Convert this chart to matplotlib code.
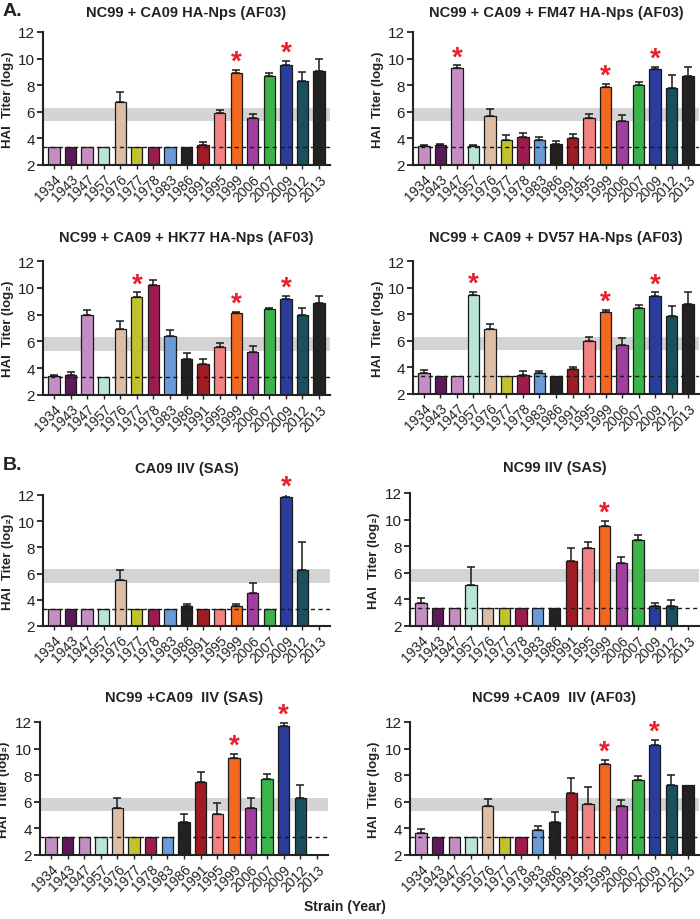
import numpy as np
import matplotlib
matplotlib.use("Agg")
import matplotlib.pyplot as plt

plt.rcParams['font.family'] = ['Liberation Sans', 'DejaVu Sans']

strains = ["1934", "1943", "1947", "1957", "1976", "1977", "1978", "1983", "1986",
           "1991", "1995", "1999", "2006", "2007", "2009", "2012", "2013"]
colors = ["#c48ec3", "#5c1a5a", "#c48ec3", "#b9e4d8", "#dcbea6", "#c2c22e", "#9c1c50",
          "#6b9bd6", "#222222", "#a01c24", "#f28282", "#f2681f", "#a03fa0", "#3bb54a",
          "#2a3c9c", "#1a4f5e", "#222222"]

B = 3.32  # detection limit (log2 10)
NA = np.nan

titles = ["NC99 + CA09 HA-Nps (AF03)", "NC99 + CA09 + FM47 HA-Nps (AF03)",
          "NC99 + CA09 + HK77 HA-Nps (AF03)", "NC99 + CA09 + DV57 HA-Nps (AF03)",
          "CA09 IIV (SAS)", "NC99 IIV (SAS)",
          "NC99 +CA09  IIV (SAS)", "NC99 +CA09  IIV (AF03)"]

vals_1 = [B, B, B, B, 6.7, B, B, B, B, 3.5, 5.9, 8.9, 5.5, 8.7, 9.5, 8.3, 9.1]
errs_1 = [0, 0, 0, 0, 0.8, 0, 0, 0, 0, 0.2, 0.25, 0.25, 0.35, 0.25, 0.35, 0.7, 0.85]
star_1 = ["1999", "2009"]

vals_2 = [3.4, 3.5, 9.3, 3.4, 5.7, 3.9, 4.1, 3.9, 3.6, 4.0, 5.5, 7.9, 5.3, 8.0, 9.2, 7.8, 8.7]
errs_2 = [0.07, 0.1, 0.2, 0.08, 0.5, 0.35, 0.3, 0.2, 0.2, 0.3, 0.3, 0.2, 0.45, 0.25, 0.2, 1.0, 0.7]
star_2 = ["1947", "1999", "2009"]

vals_3 = [3.4, 3.5, 8.0, B, 6.9, 9.3, 10.2, 6.4, 4.7, 4.3, 5.6, 8.1, 5.2, 8.4, 9.2, 8.0, 8.9]
errs_3 = [0.08, 0.18, 0.35, 0, 0.6, 0.35, 0.35, 0.45, 0.45, 0.35, 0.3, 0.1, 0.45, 0.07, 0.2, 0.5, 0.5]
star_3 = ["1977", "1999", "2009"]

vals_4 = [3.55, B, B, 9.45, 6.85, B, 3.45, 3.55, B, 3.85, 5.95, 8.15, 5.7, 8.45, 9.4, 7.85, 8.75]
errs_4 = [0.25, 0, 0, 0.25, 0.45, 0, 0.25, 0.2, 0, 0.2, 0.35, 0.2, 0.5, 0.25, 0.25, 0.75, 0.9]
star_4 = ["1957", "1999", "2009"]

vals_5 = [B, B, B, B, 5.5, B, B, B, 3.5, B, B, 3.5, 4.5, B, 11.85, 6.3, NA]
errs_5 = [0, 0, 0, 0, 0.75, 0, 0, 0, 0.2, 0, 0, 0.2, 0.8, 0, 0.2, 2.1, 0]
star_5 = ["2009"]

vals_6 = [3.7, B, B, 5.1, B, B, B, B, B, 6.9, 7.9, 9.5, 6.7, 8.5, 3.5, 3.5, NA]
errs_6 = [0.4, 0, 0, 1.35, 0, 0, 0, 0, 0, 1.0, 0.4, 0.4, 0.5, 0.35, 0.2, 0.45, 0]
star_6 = ["1999"]

vals_7 = [B, B, B, B, 5.5, B, B, B, 4.5, 7.5, 5.1, 9.3, 5.5, 7.7, 11.7, 6.3, NA]
errs_7 = [0, 0, 0, 0, 0.8, 0, 0, 0, 0.6, 0.75, 0.8, 0.3, 0.75, 0.4, 0.25, 1.0, 0]
star_7 = ["1999", "2009"]

vals_8 = [3.65, B, B, B, 5.65, B, B, 3.85, 4.45, 6.65, 5.85, 8.85, 5.65, 7.65, 10.25, 7.25, 7.25]
errs_8 = [0.3, 0, 0, 0, 0.55, 0, 0, 0.3, 0.8, 1.15, 1.25, 0.3, 0.45, 0.3, 0.4, 0.75, 0]
star_8 = ["1999", "2009"]

all_vals = [vals_1, vals_2, vals_3, vals_4, vals_5, vals_6, vals_7, vals_8]
all_errs = [errs_1, errs_2, errs_3, errs_4, errs_5, errs_6, errs_7, errs_8]
all_stars = [star_1, star_2, star_3, star_4, star_5, star_6, star_7, star_8]

band_lo, band_hi = 5.32, 6.32

W, H = 700, 920
fig = plt.figure(figsize=(W / 100, H / 100), dpi=100)

# axes boxes in pixels: (left, top, right, bottom)
boxes = [(43, 33, 330, 166), (413, 33, 699, 166),
         (43, 262, 330, 396), (413, 262, 699, 395),
         (43, 496, 330, 627), (410, 494, 699, 627),
         (40, 723, 328, 856), (410, 723, 699, 856)]
title_y = [13, 13, 238, 238, 469, 468, 698, 698]

x = np.arange(len(strains))
for i, (l, t, r, b) in enumerate(boxes):
    ax = fig.add_axes([l / W, 1 - b / H, (r - l) / W, (b - t) / H])
    v = np.array(all_vals[i], dtype=float)
    e = np.array(all_errs[i], dtype=float)
    ax.axhspan(band_lo, band_hi, color="#d4d4d4", zorder=0, lw=0)
    ax.bar(x, v - 2, bottom=2, width=0.68, color=colors, edgecolor="#1a1a1a",
           linewidth=0.9, zorder=2)
    mask = (e > 0) & ~np.isnan(v)
    ax.errorbar(x[mask], v[mask], yerr=[np.zeros(mask.sum()), e[mask]], fmt="none",
                ecolor="#1a1a1a", elinewidth=1.1, capsize=3.2, capthick=1.1, zorder=3)
    ax.axhline(B, color="#1a1a1a", lw=1.0, ls=(0, (3, 2.5)), zorder=4)
    for s in all_stars[i]:
        k = strains.index(s)
        top = v[k] + e[k]
        ax.text(k, top + 0.6, "*", color="#e8202a", fontsize=20, fontweight="bold",
                ha="center", va="center", zorder=5)
    ax.set_xlim(-0.66, 16.66)
    ax.set_ylim(2, 12)
    ax.set_yticks([2, 4, 6, 8, 10, 12])
    ax.set_xticks(x)
    ax.set_xticklabels(strains, rotation=45, ha="right", rotation_mode="anchor",
                       fontsize=10, color="#222222")
    ax.tick_params(axis="y", labelsize=11, length=4, width=1.3, colors="#222222", pad=2)
    ax.tick_params(axis="x", length=3, width=1.0, colors="#222222", pad=2)
    for sp in ["top", "right"]:
        ax.spines[sp].set_visible(False)
    for sp in ["left", "bottom"]:
        ax.spines[sp].set_linewidth(1.5)
        ax.spines[sp].set_color("#222222")
    ax.set_ylabel("HAI  Titer (log₂)", fontsize=9.5, fontweight="bold", labelpad=3,
                  color="#222222")
    fig.text((l + r) / 2 / W, 1 - title_y[i] / H, titles[i], ha="center", va="center",
             fontsize=10.5, fontweight="bold", color="#222222")

fig.text(3 / W, 1 - 12 / H, "A.", fontsize=14, fontweight="bold", ha="left", va="center",
         color="#222222")
fig.text(3 / W, 1 - 466 / H, "B.", fontsize=14, fontweight="bold", ha="left", va="center",
         color="#222222")
fig.text(345 / W, 1 - 907 / H, "Strain (Year)", fontsize=10, fontweight="bold",
         ha="center", va="center", color="#222222")

fig.savefig("out.png", dpi=100)
